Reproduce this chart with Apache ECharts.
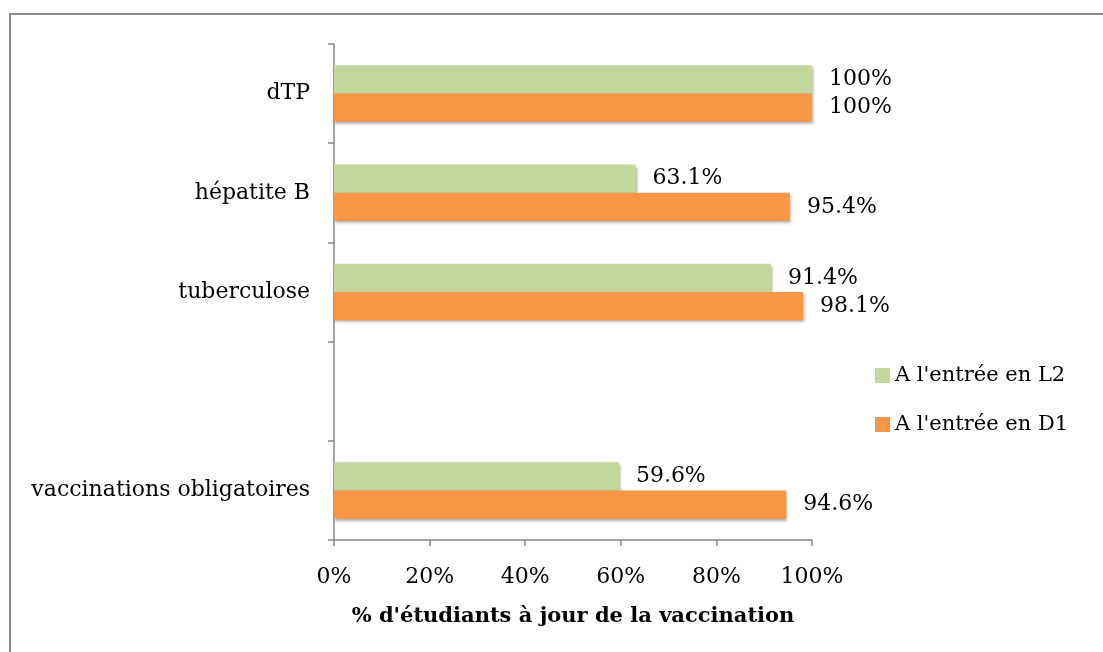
<!DOCTYPE html>
<html>
<head>
<meta charset="utf-8">
<script src="https://cdn.jsdelivr.net/npm/echarts@6/dist/echarts.min.js"></script>
<style>
  html, body { margin: 0; padding: 0; background: #fff; }
  #chart { width: 1103px; height: 652px; }
</style>
</head>
<body>
<div id="chart"></div>
<script>
'use strict';
// données (de bas en haut)
var categories = ['vaccinations obligatoires', '', 'tuberculose', 'hépatite B', 'dTP'];
var valuesL2 = [59.6, null, 91.4, 63.1, 100];
var valuesD1 = [94.6, null, 98.1, 95.4, 100];
var xTicks = [0, 20, 40, 60, 80, 100];

var FONT = 'DejaVu Serif';
var axisGray = '#868686';

var chart = echarts.init(document.getElementById('chart'));

var barShadow = {
  shadowColor: 'rgba(0,0,0,0.35)',
  shadowBlur: 3,
  shadowOffsetX: 1,
  shadowOffsetY: 2
};

chart.setOption({
  animation: false,
  textStyle: { fontFamily: FONT },
  graphic: [{
    type: 'rect',
    shape: { x: 10, y: 14, width: 1100, height: 700 },
    style: { fill: 'none', stroke: '#8c8c8c', lineWidth: 2 }
  }],
  grid: { left: 334, top: 44, width: 478, height: 496 },
  legend: {
    orient: 'vertical',
    left: 870,
    top: 360,
    itemWidth: 15,
    itemHeight: 15,
    itemGap: 28,
    icon: 'rect',
    data: ["A l'entrée en L2", "A l'entrée en D1"],
    textStyle: { fontFamily: FONT, fontSize: 21, color: '#000', padding: [0, 0, 0, 0] }
  },
  xAxis: {
    type: 'value',
    min: 0,
    max: 100,
    interval: 20,
    name: "% d'étudiants à jour de la vaccination",
    nameLocation: 'middle',
    nameGap: 66,
    nameTextStyle: { fontFamily: FONT, fontSize: 21, fontWeight: 'bold', color: '#000' },
    axisLine: { show: true, lineStyle: { color: axisGray, width: 1.5 } },
    axisTick: { show: true, length: 6, inside: false, lineStyle: { color: axisGray, width: 1.5 } },
    splitLine: { show: false },
    axisLabel: {
      margin: 26,
      fontFamily: FONT,
      fontSize: 22,
      color: '#000',
      formatter: function (v) { return xTicks.indexOf(v) >= 0 ? v + '%' : ''; }
    }
  },
  yAxis: {
    type: 'category',
    data: categories,
    axisLine: { lineStyle: { color: axisGray, width: 1.5 } },
    axisTick: { show: true, length: 6, lineStyle: { color: axisGray, width: 1.5 } },
    axisLabel: { margin: 24, fontFamily: FONT, fontSize: 22, color: '#000' }
  },
  series: [{
    name: "A l'entrée en L2",
    type: 'bar',
    data: valuesL2,
    barGap: '0%',
    barCategoryGap: '43%',
    itemStyle: Object.assign({ color: '#C3D69B' }, barShadow),
    label: {
      show: true, position: 'right', distance: 17,
      formatter: '{c}%', fontFamily: FONT, fontSize: 22, color: '#000'
    }
  }, {
    name: "A l'entrée en D1",
    type: 'bar',
    data: valuesD1,
    barGap: '0%',
    barCategoryGap: '43%',
    itemStyle: Object.assign({ color: '#F79646' }, barShadow),
    label: {
      show: true, position: 'right', distance: 17,
      formatter: '{c}%', fontFamily: FONT, fontSize: 22, color: '#000'
    }
  }]
});
</script>
</body>
</html>
